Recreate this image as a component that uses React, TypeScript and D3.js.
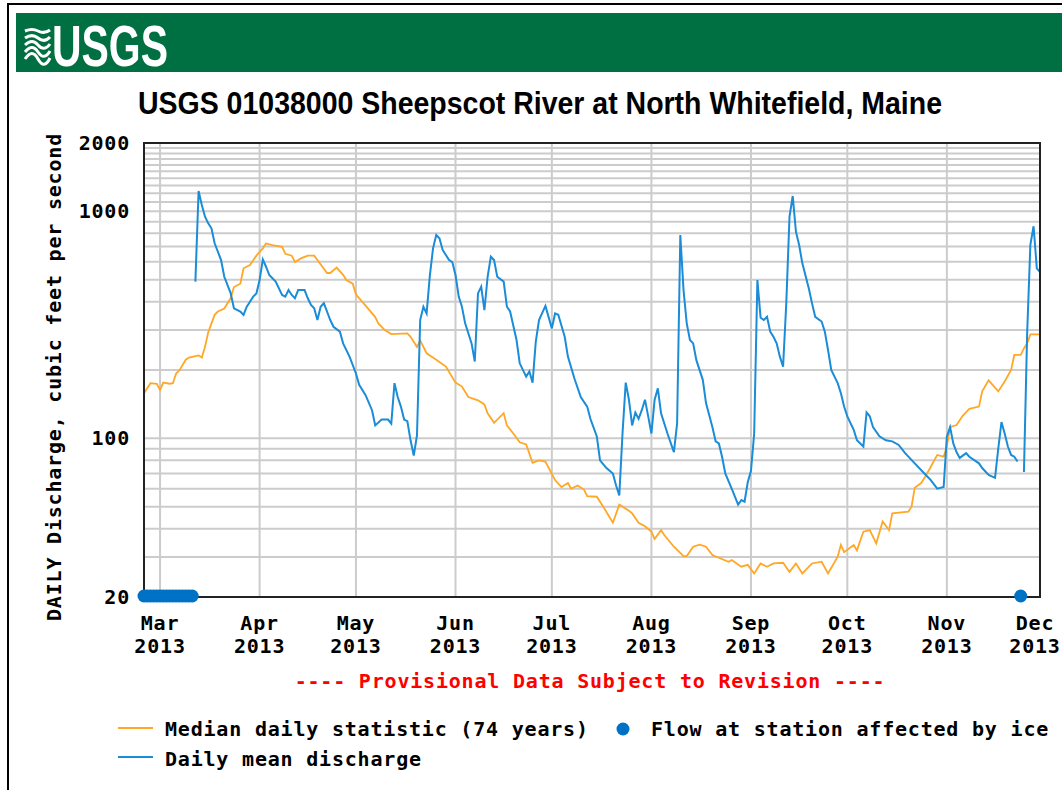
import * as d3 from "d3";
import { useEffect, useRef } from "react";

// Daily mean discharge readings, ft3/s (null = ice-affected gap)
const dailyMean: [string, number | null][] = [
  ["03-12", 490], ["03-13", 1230], ["03-14", 1067], ["03-15", 947], ["03-16", 885], ["03-17", 842],
  ["03-18", 723], ["03-20", 610], ["03-21", 515], ["03-23", 435], ["03-24", 374], ["03-26", 362],
  ["03-27", 350], ["03-28", 380], ["03-29", 400], ["03-30", 421], ["03-31", 435], ["04-01", 498],
  ["04-02", 614], ["04-03", 570], ["04-04", 524], ["04-06", 490], ["04-08", 428], ["04-09", 421],
  ["04-10", 450], ["04-11", 428], ["04-12", 414], ["04-13", 450], ["04-15", 450], ["04-16", 414],
  ["04-17", 387], ["04-18", 374], ["04-19", 332], ["04-20", 380], ["04-21", 394], ["04-23", 332],
  ["04-24", 310], ["04-26", 295], ["04-27", 262], ["04-29", 229], ["05-01", 193], ["05-02", 172],
  ["05-04", 155], ["05-06", 133], ["05-07", 114], ["05-09", 121], ["05-11", 121], ["05-12", 116],
  ["05-13", 175], ["05-14", 152], ["05-15", 138], ["05-16", 121], ["05-17", 119], ["05-18", 98],
  ["05-19", 84], ["05-20", 103], ["05-21", 332], ["05-22", 380], ["05-23", 355], ["05-24", 520],
  ["05-25", 687], ["05-26", 787], ["05-27", 761], ["05-28", 676], ["05-30", 610], ["05-31", 598],
  ["06-01", 524], ["06-02", 421], ["06-03", 380], ["06-04", 321], ["06-06", 262], ["06-07", 218],
  ["06-08", 435], ["06-09", 466], ["06-10", 367], ["06-11", 515], ["06-12", 631], ["06-13", 610],
  ["06-14", 515], ["06-16", 490], ["06-17", 380], ["06-18", 362], ["06-20", 271], ["06-21", 214],
  ["06-23", 187], ["06-24", 197], ["06-25", 176], ["06-26", 267], ["06-27", 332], ["06-29", 383],
  ["07-01", 305], ["07-02", 355], ["07-03", 350], ["07-05", 280], ["07-06", 229], ["07-08", 184],
  ["07-10", 152], ["07-12", 138], ["07-13", 122], ["07-15", 102], ["07-16", 80], ["07-18", 74],
  ["07-20", 70], ["07-21", 62], ["07-22", 56], ["07-23", 105], ["07-24", 176], ["07-25", 148],
  ["07-26", 114], ["07-27", 130], ["07-28", 122], ["07-29", 133], ["07-30", 148], ["07-31", 125],
  ["08-01", 105], ["08-02", 148], ["08-03", 166], ["08-04", 129], ["08-06", 105], ["08-08", 87],
  ["08-09", 116], ["08-10", 787], ["08-11", 450], ["08-12", 321], ["08-13", 271], ["08-14", 262],
  ["08-15", 221], ["08-17", 181], ["08-18", 143], ["08-20", 112], ["08-21", 97], ["08-22", 95],
  ["08-23", 83], ["08-24", 70], ["08-26", 60], ["08-28", 51], ["08-29", 53.5], ["08-30", 52.6],
  ["08-31", 64], ["09-01", 72], ["09-02", 105], ["09-03", 498], ["09-04", 340], ["09-05", 332],
  ["09-06", 343], ["09-07", 295], ["09-08", 280], ["09-09", 262], ["09-10", 229], ["09-11", 207],
  ["09-12", 394], ["09-13", 948], ["09-14", 1168], ["09-15", 814], ["09-16", 711], ["09-17", 590],
  ["09-19", 458], ["09-20", 394], ["09-21", 343], ["09-23", 327], ["09-24", 295], ["09-25", 245],
  ["09-26", 200], ["09-28", 175], ["09-29", 158], ["09-30", 138], ["10-01", 125], ["10-03", 109],
  ["10-04", 98], ["10-06", 92], ["10-07", 130], ["10-08", 125], ["10-09", 112], ["10-11", 102],
  ["10-13", 98], ["10-15", 97], ["10-17", 93.5], ["10-19", 86], ["10-22", 77.6], ["10-25", 70],
  ["10-27", 65.5], ["10-29", 60], ["10-31", 61], ["11-01", 102], ["11-02", 112], ["11-03", 95],
  ["11-04", 87], ["11-05", 82], ["11-07", 86], ["11-08", 83], ["11-11", 77.6], ["11-12", 74],
  ["11-14", 69], ["11-16", 67], ["11-17", 90], ["11-18", 118], ["11-19", 105], ["11-20", 92],
  ["11-21", 84.5], ["11-22", 83], ["11-23", 79], ["11-24", null], ["11-25", 71], ["11-26", 290],
  ["11-27", 712], ["11-28", 860], ["11-29", 561], ["11-30", 540],
];

// Median daily statistic (74 years), ft3/s
const medianDaily: [string, number][] = [
  ["02-24", 158], ["02-26", 175], ["02-28", 174], ["03-01", 163], ["03-02", 176], ["03-04", 174],
  ["03-05", 175], ["03-06", 193], ["03-07", 199], ["03-09", 222], ["03-10", 227], ["03-13", 232],
  ["03-14", 227], ["03-15", 253], ["03-16", 293], ["03-18", 350], ["03-19", 362], ["03-21", 373],
  ["03-23", 415], ["03-24", 464], ["03-26", 480], ["03-27", 561], ["03-29", 580], ["03-31", 638],
  ["04-02", 687], ["04-03", 722], ["04-05", 710], ["04-08", 698], ["04-09", 650], ["04-11", 638],
  ["04-12", 598], ["04-14", 622], ["04-16", 638], ["04-18", 638], ["04-19", 610], ["04-22", 535],
  ["04-23", 535], ["04-25", 565], ["04-27", 525], ["04-28", 498], ["04-30", 480], ["05-01", 430],
  ["05-04", 384], ["05-07", 342], ["05-08", 320], ["05-10", 300], ["05-12", 288], ["05-17", 290],
  ["05-18", 280], ["05-20", 253], ["05-21", 270], ["05-23", 237], ["05-26", 222], ["05-29", 207],
  ["06-01", 176], ["06-03", 169], ["06-05", 152], ["06-08", 147], ["06-10", 141], ["06-11", 129],
  ["06-13", 117], ["06-16", 129], ["06-17", 114], ["06-19", 105], ["06-21", 96], ["06-23", 94],
  ["06-25", 78], ["06-27", 80], ["06-29", 79], ["07-02", 65.5], ["07-04", 61], ["07-06", 63.5],
  ["07-07", 60], ["07-09", 62], ["07-11", 59.5], ["07-12", 55.7], ["07-15", 55.3], ["07-17", 50],
  ["07-20", 42.5], ["07-22", 51], ["07-25", 48], ["07-26", 46.7], ["07-28", 42.5], ["07-30", 41],
  ["08-01", 38.8], ["08-02", 36], ["08-04", 39.4], ["08-05", 37.5], ["08-08", 33.3], ["08-11", 30.3],
  ["08-12", 30.3], ["08-14", 33.3], ["08-16", 34], ["08-18", 33.3], ["08-20", 30.6], ["08-25", 28.6],
  ["08-26", 29.1], ["08-29", 27.2], ["08-31", 27.7], ["09-02", 25.4], ["09-04", 28.1], ["09-06", 27.2],
  ["09-08", 28.1], ["09-11", 28.3], ["09-13", 25.8], ["09-15", 28.1], ["09-17", 25.4], ["09-20", 28.1],
  ["09-23", 28.6], ["09-25", 25.4], ["09-28", 30.1], ["09-29", 33.9], ["09-30", 31.5], ["10-03", 33.9],
  ["10-04", 32.1], ["10-06", 38.8], ["10-08", 39.4], ["10-10", 34.4], ["10-12", 43], ["10-14", 39.4],
  ["10-15", 46.7], ["10-20", 47.5], ["10-21", 50], ["10-22", 60.6], ["10-24", 63.5], ["10-25", 66.8],
  ["10-27", 75], ["10-29", 84.5], ["10-31", 83], ["11-01", 92], ["11-02", 112], ["11-04", 114.5],
  ["11-06", 126], ["11-08", 135], ["11-11", 138], ["11-12", 161], ["11-14", 180], ["11-17", 161],
  ["11-19", 178], ["11-21", 200], ["11-22", 233], ["11-24", 233], ["11-25", 249], ["11-26", 262],
  ["11-27", 287], ["11-30", 287],
];

// Days where flow at station was affected by ice
const iceDays = [
  "02-24", "02-25", "02-26", "02-27", "02-28", "03-01", "03-02", "03-03", "03-04", "03-05",
  "03-06", "03-07", "03-08", "03-09", "03-10", "03-11", "11-24",
];

const yLabels = [20, 100, 1000, 2000];
const yGrid = [30, 40, 50, 60, 70, 80, 90, 100, 200, 300, 400, 500, 600, 700, 800, 900,
  1000, 1100, 1200, 1300, 1400, 1500, 1600, 1700, 1800, 1900];
const monthLabels = ["Mar", "Apr", "May", "Jun", "Jul", "Aug", "Sep", "Oct", "Nov", "Dec"];

const parse = d3.timeParse("%Y-%m-%d");
const day = (s: string) => parse("2013-" + s) as Date;

const MONO = "'DejaVu Sans Mono', monospace";

export default function App() {
  const svgRef = useRef<SVGSVGElement>(null);

  useEffect(() => {
    const width = 1062, height = 790;
    const left = 144, right = 1040, top = 143, bottom = 597;

    const x = d3.scaleTime([day("02-24"), day("11-30")], [left, right]);
    const y = d3.scaleLog([20, 2000], [bottom, top]);

    const svg = d3.select(svgRef.current).attr("width", width).attr("height", height);
    svg.selectAll("*").remove();

    svg.append("rect").attr("width", width).attr("height", height).attr("fill", "#fff");
    // outer frame
    svg.append("rect").attr("x", 8).attr("y", 4).attr("width", width).attr("height", height + 10)
      .attr("fill", "none").attr("stroke", "#000").attr("stroke-width", 2);

    // header band
    svg.append("rect").attr("x", 16).attr("y", 13).attr("width", width - 16).attr("height", 59)
      .attr("fill", "#006f41");
    const logo = svg.append("g").attr("fill", "none").attr("stroke", "#fff").attr("stroke-width", 3);
    [31, 38, 45, 52, 59].forEach((yy, i) => {
      const a = 2 + i * 1.3;
      logo.append("path")
        .attr("d", `M25,${yy} C30,${yy - a} 34,${yy - a} 38,${yy} S46,${yy + a} 50,${yy - 1}`);
    });
    svg.append("text").attr("x", 52).attr("y", 66).attr("fill", "#fff")
      .attr("font-family", "'Liberation Sans', Arial, sans-serif").attr("font-weight", "bold")
      .attr("font-size", 58).attr("textLength", 116).attr("lengthAdjust", "spacingAndGlyphs")
      .text("USGS");

    // title
    svg.append("text").attr("x", 138).attr("y", 114).attr("fill", "#000")
      .attr("font-family", "'Liberation Sans', Arial, sans-serif").attr("font-weight", "bold")
      .attr("font-size", 31).attr("textLength", 804).attr("lengthAdjust", "spacingAndGlyphs")
      .text("USGS 01038000 Sheepscot River at North Whitefield, Maine");

    // grid
    const grid = svg.append("g").attr("stroke", "#cccccc").attr("stroke-width", 2);
    yGrid.forEach(v => {
      grid.append("line").attr("x1", left).attr("x2", right).attr("y1", y(v)).attr("y2", y(v));
    });
    const months = d3.timeMonth.range(day("03-01"), day("12-02"));
    months.filter(m => x(m) < right - 2).forEach(m => {
      grid.append("line").attr("x1", x(m)).attr("x2", x(m)).attr("y1", top).attr("y2", bottom);
    });

    svg.append("clipPath").attr("id", "plotclip").append("rect")
      .attr("x", left).attr("y", top).attr("width", right - left).attr("height", bottom - top);

    const line = d3.line<[string, number | null]>()
      .defined(d => d[1] != null)
      .x(d => x(day(d[0])))
      .y(d => y(d[1] as number));

    svg.append("path").datum(medianDaily as [string, number | null][]).attr("d", line)
      .attr("fill", "none").attr("stroke", "#ffa726").attr("stroke-width", 1.8)
      .attr("clip-path", "url(#plotclip)");
    svg.append("path").datum(dailyMean).attr("d", line)
      .attr("fill", "none").attr("stroke", "#1a8cd8").attr("stroke-width", 2)
      .attr("clip-path", "url(#plotclip)");

    // frame
    svg.append("rect").attr("x", left).attr("y", top).attr("width", right - left)
      .attr("height", bottom - top).attr("fill", "none").attr("stroke", "#222").attr("stroke-width", 2);

    // ice markers
    svg.append("g").selectAll("circle").data(iceDays).enter().append("circle")
      .attr("cx", d => x(day(d))).attr("cy", bottom - 1).attr("r", 6.5).attr("fill", "#0072c6");

    const label = (t: string, xx: number, yy: number, anchor = "middle", color = "#000") =>
      svg.append("text").attr("x", xx).attr("y", yy).attr("text-anchor", anchor)
        .attr("font-family", MONO).attr("font-weight", "bold").attr("font-size", 20)
        .attr("letter-spacing", 0.8).attr("fill", color).text(t);

    yLabels.forEach(v => label(String(v), 130, y(v) + 7, "end"));
    months.forEach((m, i) => {
      // keep the last (Dec) label inside the page
      const cx = Math.min(x(m), width - 27);
      label(monthLabels[i], cx, 630);
      label("2013", cx, 653);
    });

    svg.append("text").attr("transform", "translate(61,377) rotate(-90)").attr("text-anchor", "middle")
      .attr("font-family", MONO).attr("font-weight", "bold").attr("font-size", 20)
      .attr("letter-spacing", 0.8).text("DAILY Discharge, cubic feet per second");

    label("---- Provisional Data Subject to Revision ----", 590, 688, "middle", "#ff0000");

    // legend
    svg.append("line").attr("x1", 118).attr("x2", 153).attr("y1", 728).attr("y2", 728)
      .attr("stroke", "#ffa726").attr("stroke-width", 2);
    label("Median daily statistic (74 years)", 165, 736, "start");
    svg.append("circle").attr("cx", 623).attr("cy", 729).attr("r", 6.5).attr("fill", "#0072c6");
    label("Flow at station affected by ice", 651, 736, "start");
    svg.append("line").attr("x1", 118).attr("x2", 153).attr("y1", 757).attr("y2", 757)
      .attr("stroke", "#1a8cd8").attr("stroke-width", 2);
    label("Daily mean discharge", 165, 766, "start");
  }, []);

  return (
    <div style={{ position: "absolute", left: 0, top: 0 }}>
      <svg ref={svgRef} style={{ display: "block" }} />
    </div>
  );
}
